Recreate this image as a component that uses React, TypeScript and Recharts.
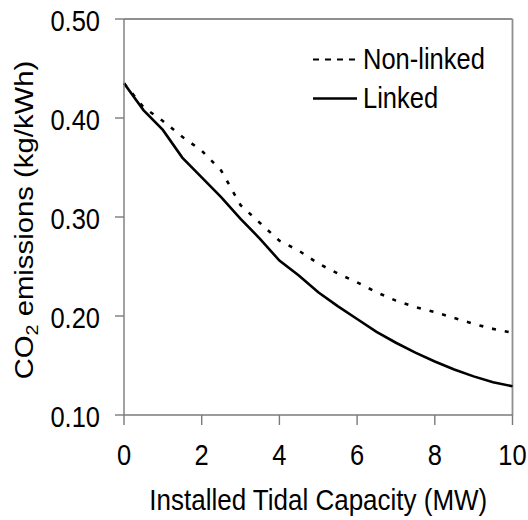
import React from 'react';
import {
  LineChart,
  Line,
  XAxis,
  YAxis,
  ReferenceLine,
  Legend,
} from 'recharts';

// Installed tidal capacity (MW)
const capacity = [0, 0.5, 1, 1.5, 2, 2.5, 3, 3.5, 4, 4.5, 5, 5.5, 6, 6.5, 7, 7.5, 8, 8.5, 9, 9.5, 10];

// CO2 emissions (kg/kWh) with linked operation
const linked = [
  0.435, 0.408, 0.388, 0.36, 0.34, 0.32, 0.298, 0.278, 0.256, 0.241, 0.224,
  0.21, 0.197, 0.184, 0.173, 0.163, 0.154, 0.146, 0.139, 0.133, 0.129,
];

// CO2 emissions (kg/kWh) without linking
const nonLinked = [
  0.435, 0.411, 0.397, 0.381, 0.367, 0.347, 0.312, 0.294, 0.276, 0.266, 0.253,
  0.243, 0.234, 0.224, 0.2155, 0.209, 0.204, 0.198, 0.192, 0.187, 0.183,
];

const xTicks = [0, 2, 4, 6, 8, 10];
const yTicks = [0.1, 0.2, 0.3, 0.4, 0.5];

const rows = capacity.map((c, i) => ({
  capacity: c,
  linked: linked[i],
  nonLinked: nonLinked[i],
}));

const FONT = '"Liberation Sans", Arial, Helvetica, sans-serif';
const FONT_SIZE = 25.5;
const TITLE_SIZE = 26;
const STRETCH = 1.15;
const AXIS_GREY = '#7a7a7a';
const FRAME_GREY = '#8f8f8f';

const XTick = (props: any) => {
  const { x, y, payload } = props;
  return (
    <g transform={`translate(${x},${y}) scale(1,${STRETCH})`}>
      <text x={0} y={0} dy="0.72em" textAnchor="middle" fontSize={FONT_SIZE} fontFamily={FONT} fill="#000">
        {payload.value}
      </text>
    </g>
  );
};

const YTick = (props: any) => {
  const { x, y, payload } = props;
  return (
    <g transform={`translate(${x - 13},${y}) scale(1,${STRETCH})`}>
      <text x={0} y={0} dy="0.41em" textAnchor="end" fontSize={FONT_SIZE} fontFamily={FONT} fill="#000">
        {Number(payload.value).toFixed(2)}
      </text>
    </g>
  );
};

const XTitle = (props: any) => {
  const vb = props.viewBox || {};
  const cx = vb.x + vb.width / 2;
  const by = vb.y + 95;
  return (
    <g transform={`translate(${cx},${by}) scale(1,${STRETCH})`}>
      <text x={0} y={0} textAnchor="middle" fontSize={TITLE_SIZE} fontFamily={FONT} fill="#000">
        Installed Tidal Capacity (MW)
      </text>
    </g>
  );
};

const YTitle = (props: any) => {
  const vb = props.viewBox || {};
  const bx = vb.x + 33;
  const cy = 220;
  return (
    <g transform={`translate(${bx},${cy}) scale(1,${STRETCH}) rotate(-90)`}>
      <text x={0} y={0} textAnchor="middle" fontSize={FONT_SIZE} fontFamily={FONT} fill="#000">
        CO
        <tspan fontSize={17} dy={5}>2</tspan>
        <tspan dy={-5}> emissions (kg/kWh)</tspan>
      </text>
    </g>
  );
};

const legendItems = [
  { name: 'Non-linked', dash: '6 6' },
  { name: 'Linked', dash: undefined as string | undefined },
];

const LegendBox = () => (
  <div style={{ fontFamily: FONT, fontSize: FONT_SIZE, color: '#000' }}>
    {legendItems.map((it) => (
      <div key={it.name} style={{ display: 'flex', alignItems: 'center', height: 39 }}>
        <svg width={44} height={39} style={{ display: 'block' }}>
          <line x1={0} y1={19.5} x2={44} y2={19.5} stroke="#000" strokeWidth={it.dash ? 2 : 2.6} strokeDasharray={it.dash} />
        </svg>
        <span
          style={{
            display: 'inline-block',
            marginLeft: 6,
            lineHeight: 1,
            transform: `scaleY(${STRETCH})`,
            whiteSpace: 'nowrap',
          }}
        >
          {it.name}
        </span>
      </div>
    ))}
  </div>
);

export default function App() {
  return (
    <div style={{ position: 'absolute', left: 0, top: 0, background: '#fff' }}>
      <LineChart
        width={528}
        height={520}
        data={rows}
        margin={{ top: 19, right: 15.5, bottom: 0, left: 0 }}
      >
        <XAxis
          dataKey="capacity"
          type="number"
          domain={[0, 10]}
          ticks={xTicks}
          height={105}
          tickSize={10}
          tickMargin={19}
          axisLine={{ stroke: AXIS_GREY, strokeWidth: 1.4 }}
          tickLine={{ stroke: AXIS_GREY, strokeWidth: 1.4 }}
          tick={<XTick />}
          interval={0}
          label={{ content: <XTitle /> }}
        />
        <YAxis
          type="number"
          domain={[0.1, 0.5]}
          ticks={yTicks}
          width={124}
          tickSize={9}
          tickMargin={2}
          axisLine={{ stroke: AXIS_GREY, strokeWidth: 1.4 }}
          tickLine={{ stroke: AXIS_GREY, strokeWidth: 1.4 }}
          tick={<YTick />}
          interval={0}
          allowDataOverflow
          label={{ content: <YTitle /> }}
        />
        <ReferenceLine y={0.5} stroke={FRAME_GREY} strokeWidth={1.8} ifOverflow="visible" />
        <ReferenceLine x={10} stroke={FRAME_GREY} strokeWidth={1.8} ifOverflow="visible" />
        <Line
          type="linear"
          dataKey="nonLinked"
          name="Non-linked"
          stroke="#000"
          strokeWidth={2.6}
          strokeDasharray="4 9"
          dot={false}
          isAnimationActive={false}
        />
        <Line
          type="linear"
          dataKey="linked"
          name="Linked"
          stroke="#000"
          strokeWidth={2.6}
          dot={false}
          isAnimationActive={false}
        />
        <Legend
          layout="vertical"
          align="center"
          verticalAlign="middle"
          content={<LegendBox />}
          wrapperStyle={{ position: 'absolute', left: 313, top: 40, width: 200, height: 80 }}
        />
      </LineChart>
    </div>
  );
}
